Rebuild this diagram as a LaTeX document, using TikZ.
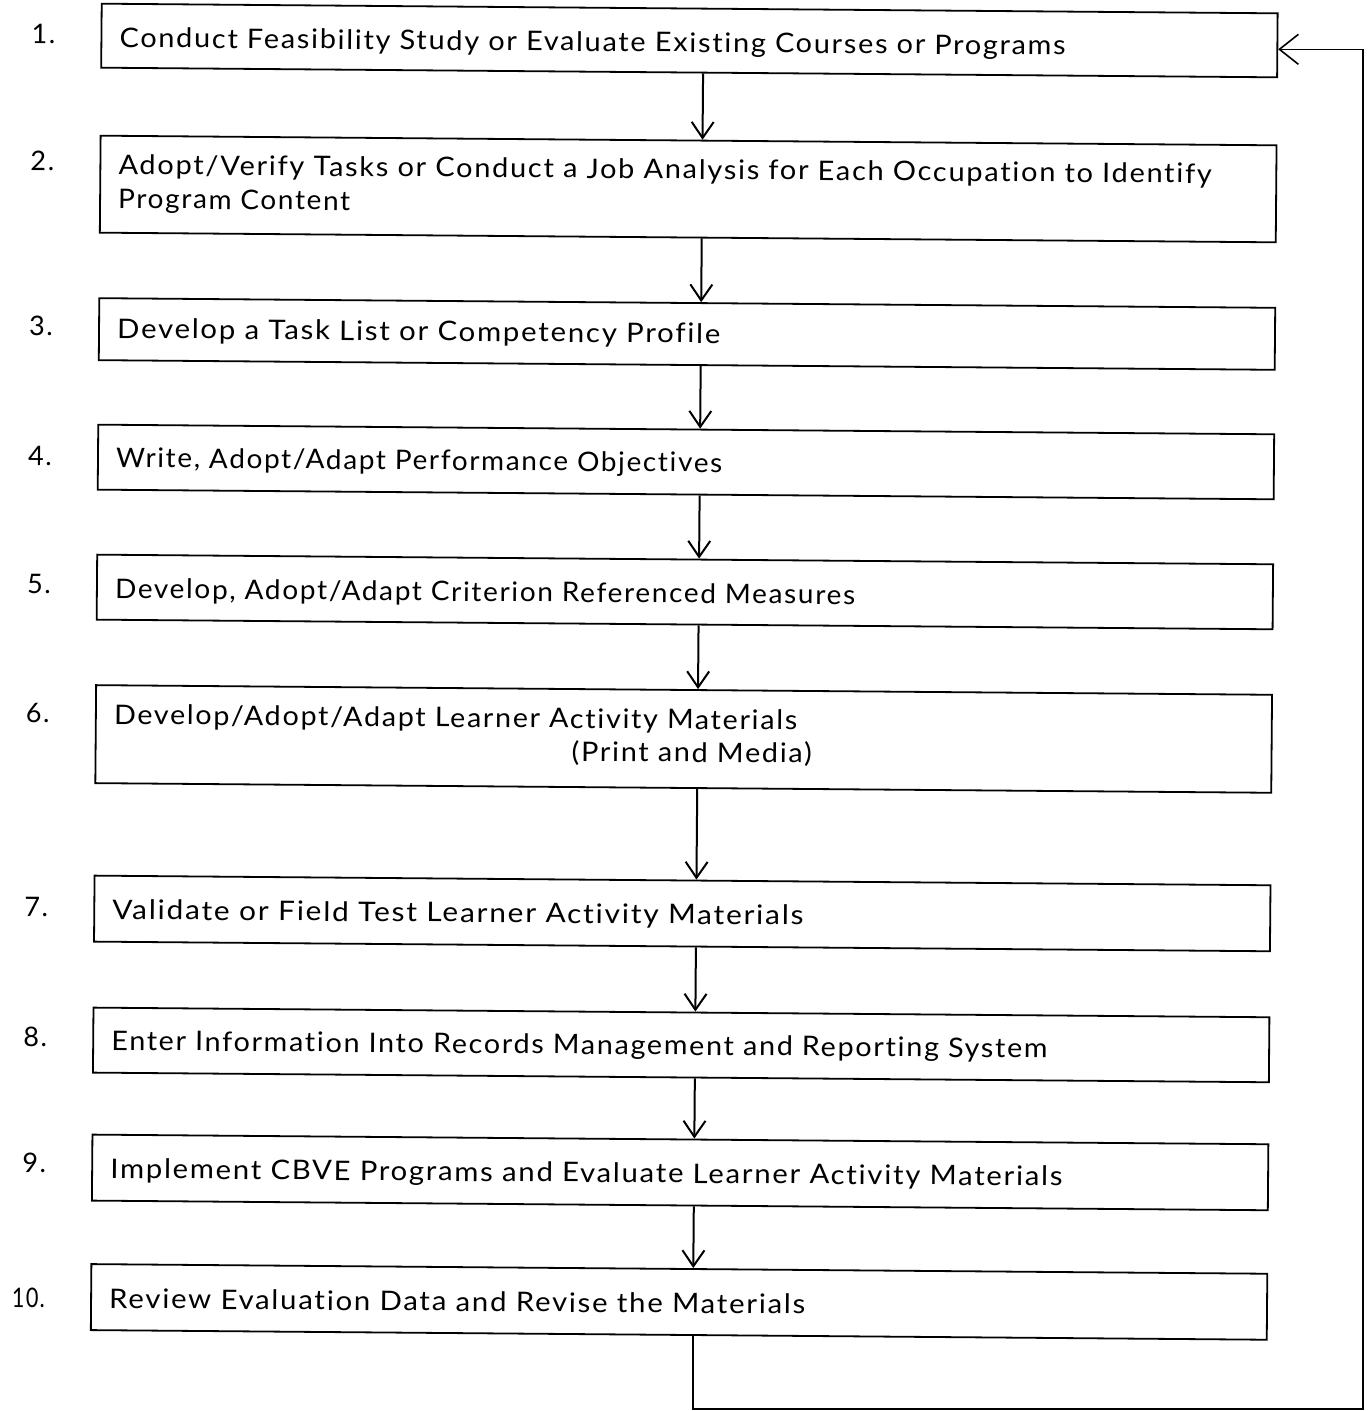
\documentclass[tikz,border=0pt]{standalone}
\usepackage{fontspec}
\usepackage{graphicx}
\usetikzlibrary{arrows.meta}
\newfontfamily\lblfam{Lato}[LetterSpace=6, Ligatures={NoCommon,NoContextual}]
\newcommand\lblfont{\lblfam\fontsize{27}{32}\selectfont}
\newcommand\W[2]{\resizebox{#1}{\height}{#2}}
\begin{document}
\begin{tikzpicture}[x=1pt,y=-1pt,
  boxst/.style={draw, rectangle, line width=1.8pt, minimum width=1176pt, inner sep=0pt},
  txt/.style={anchor=base west, font=\lblfont, inner sep=0pt},
  num/.style={anchor=base east, font=\lblfont, inner sep=0pt},
  arr/.style={line width=2pt, -{Straight Barb[length=16pt, width=22pt]}},
  fb/.style={line width=1.6pt, -{Straight Barb[length=19pt, width=30pt]}}]
\useasboundingbox[fill=white] (0,0) rectangle (1368,1411);
\begin{scope}[rotate around={-0.47:(690,700)}, transform shape]
  % boxes
  \node[boxst, minimum height=64pt] (b1) at (684,40.5) {};
  \node[boxst, minimum height=97pt] (b2) at (684,189) {};
  \node[boxst, minimum height=62pt] (b3) at (684,334) {};
  \node[boxst, minimum height=65pt] (b4) at (684,462) {};
  \node[boxst, minimum height=65pt] (b5) at (684,592) {};
  \node[boxst, minimum height=98pt] (b6) at (684,739) {};
  \node[boxst, minimum height=66pt] (b7) at (684,913.5) {};
  \node[boxst, minimum height=65pt] (b8) at (684,1045) {};
  \node[boxst, minimum height=66pt] (b9) at (684,1172.5) {};
  \node[boxst, minimum height=66pt] (b10) at (684,1302) {};
  % numbers
  \node[num] (n1) at (50,49) {1.};
  \node[num] (n2) at (50,176) {2.};
  \node[num] (n3) at (50,341) {3.};
  \node[num] (n4) at (50,471) {4.};
  \node[num] (n5) at (50,599) {5.};
  \node[num] (n6) at (50,728) {6.};
  \node[num] (n7) at (50,922) {7.};
  \node[num] (n8) at (50,1052) {8.};
  \node[num] (n9) at (50,1178) {9.};
  \node[num] (n10) at (50,1313) {\W{33pt}{10.}};
  % texts
  \node[txt] (t1) at (114,52) {\W{946pt}{Conduct Feasibility Study or Evaluate Existing Courses or Programs}};
  \node[txt] (t2a) at (114,179) {\W{1093pt}{Adopt/Verify Tasks or Conduct a Job Analysis for Each Occupation to Identify}};
  \node[txt] (t2b) at (114,213) {\W{232pt}{Program Content}};
  \node[txt] (t3) at (114,343) {\W{603pt}{Develop a Task List or Competency Profile}};
  \node[txt] (t4) at (114,472) {\W{606pt}{Write, Adopt/Adapt Performance Objectives}};
  \node[txt] (t5) at (114,603) {\W{740pt}{Develop, Adopt/Adapt Criterion Referenced Measures}};
  \node[txt] (t6a) at (114,729) {\W{683pt}{Develop/Adopt/Adapt Learner Activity Materials}};
  \node[txt] (t6b) at (572,762) {\W{240pt}{(Print and Media)}};
  \node[txt] (t7) at (114,924) {\W{691pt}{Validate or Field Test Learner Activity Materials}};
  \node[txt] (t8) at (114,1055) {\W{936pt}{Enter Information Into Records Management and Reporting System}};
  \node[txt] (t9) at (114,1183) {\W{952pt}{Implement CBVE Programs and Evaluate Learner Activity Materials}};
  \node[txt] (t10) at (114,1313) {\W{696pt}{Review Evaluation Data and Revise the Materials}};
  % arrows
  \draw[arr] ([xshift=14pt]b1.south) -- ([xshift=14pt]b1.south |- b2.north);
  \draw[arr] ([xshift=14pt]b2.south) -- ([xshift=14pt]b2.south |- b3.north);
  \draw[arr] ([xshift=14pt]b3.south) -- ([xshift=14pt]b3.south |- b4.north);
  \draw[arr] ([xshift=14pt]b4.south) -- ([xshift=14pt]b4.south |- b5.north);
  \draw[arr] ([xshift=14pt]b5.south) -- ([xshift=14pt]b5.south |- b6.north);
  \draw[arr] ([xshift=14pt]b6.south) -- ([xshift=14pt]b6.south |- b7.north);
  \draw[arr] ([xshift=14pt]b7.south) -- ([xshift=14pt]b7.south |- b8.north);
  \draw[arr] ([xshift=14pt]b8.south) -- ([xshift=14pt]b8.south |- b9.north);
  \draw[arr] ([xshift=14pt]b9.south) -- ([xshift=14pt]b9.south |- b10.north);
  \coordinate (fbT) at ([yshift=-4pt]b1.east);
\end{scope}
\coordinate (fbR) at (1363,1409);
\draw[fb] ([xshift=14pt]b10.south) |- (fbR) |- (fbT);
\end{tikzpicture}
\end{document}
